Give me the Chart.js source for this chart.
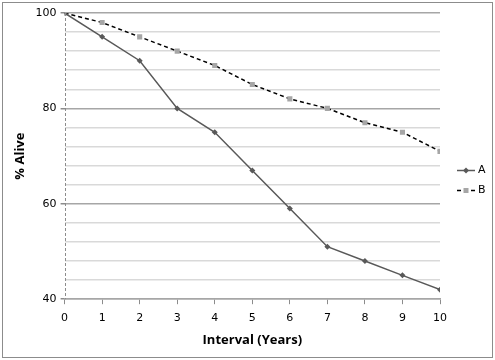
<!DOCTYPE html>
<html>
<head>
<meta charset="utf-8">
<title>Survival</title>
<script src="https://cdn.jsdelivr.net/npm/chart.js"></script>
<style>
  body { margin: 0; background: #fff; }
</style>
</head>
<body>
<canvas id="aliveChart" width="495" height="360"></canvas>
<script>
// data
const years = [0, 1, 2, 3, 4, 5, 6, 7, 8, 9, 10];
const seriesA = [100, 95, 90, 80, 75, 67, 59, 51, 48, 45, 42];
const seriesB = [100, 98, 95, 92, 89, 85, 82, 80, 77, 75, 71];
const yTickLabels = [40, 60, 80, 100];
const seriesNames = ['A', 'B'];

const tickFont = { family: 'DejaVu Sans', size: 11 };
const titleFont = { family: 'Open Sans', size: 13, weight: 'bold' };

// frame + white background + dashed value axis line
const framePlugin = {
  id: 'frame',
  beforeDraw(chart) {
    const c = chart.ctx;
    c.save();
    c.fillStyle = '#fff';
    c.fillRect(0, 0, chart.width, chart.height);
    c.restore();
  },
  afterDatasetsDraw(chart) {
    const c = chart.ctx;
    const a = chart.chartArea;
    const x = Math.round(chart.scales.x.getPixelForValue(0)) + 0.5;
    c.save();
    c.strokeStyle = '#8c8c8c';
    c.lineWidth = 1;
    c.setLineDash([3, 2]);
    c.beginPath();
    c.moveTo(x, a.top);
    c.lineTo(x, a.bottom);
    c.stroke();
    c.restore();
  },
  afterDraw(chart) {
    const c = chart.ctx;
    c.save();
    c.strokeStyle = '#8c8c8c';
    c.lineWidth = 1;
    c.strokeRect(2.5, 2.5, chart.width - 5, chart.height - 5);
    c.restore();
  }
};

// excel-ish legend: line with marker in the middle, then name
const legendPlugin = {
  id: 'sideLegend',
  afterDraw(chart) {
    const c = chart.ctx;
    const x0 = chart.chartArea.right + 17;
    const yMid = chart.height / 2;
    chart.data.datasets.forEach((ds, i) => {
      const y = Math.round(yMid + (i - 0.5) * 20) + 0.5;
      c.save();
      c.strokeStyle = ds.borderColor;
      c.lineWidth = 1.5;
      c.setLineDash(ds.borderDash || []);
      c.beginPath();
      c.moveTo(x0, y);
      c.lineTo(x0 + 18, y);
      c.stroke();
      c.setLineDash([]);
      c.fillStyle = ds.pointBackgroundColor;
      if (ds.pointStyle === 'rect') {
        c.fillRect(x0 + 6.5, y - 2.5, 5, 5);
      } else {
        c.beginPath();
        c.moveTo(x0 + 9, y - 3);
        c.lineTo(x0 + 12, y);
        c.lineTo(x0 + 9, y + 3);
        c.lineTo(x0 + 6, y);
        c.closePath();
        c.fill();
      }
      c.fillStyle = '#000';
      c.font = '11px "DejaVu Sans"';
      c.textBaseline = 'middle';
      c.fillText(ds.label, x0 + 21, y);
      c.restore();
    });
  }
};

const ctx = document.getElementById('aliveChart').getContext('2d');
const myChart = new Chart(ctx, {
  type: 'line',
  data: {
    datasets: [
      {
        label: seriesNames[0],
        data: years.map((x, i) => ({ x: x, y: seriesA[i] })),
        borderColor: '#595959',
        borderWidth: 1.5,
        pointStyle: 'rectRot',
        pointRadius: 3,
        pointBackgroundColor: '#595959',
        pointBorderColor: '#595959',
        pointBorderWidth: 0,
        tension: 0
      },
      {
        label: seriesNames[1],
        data: years.map((x, i) => ({ x: x, y: seriesB[i] })),
        borderColor: '#000',
        borderWidth: 1.5,
        borderDash: [4, 3],
        pointStyle: 'rect',
        pointRadius: 3.6,
        pointBackgroundColor: '#a6a6a6',
        pointBorderColor: '#a6a6a6',
        pointBorderWidth: 0,
        tension: 0
      }
    ]
  },
  options: {
    responsive: false,
    animation: false,
    layout: { padding: { left: 8, right: 55, top: 13, bottom: 8 } },
    plugins: {
      legend: { display: false },
      tooltip: { enabled: false }
    },
    scales: {
      x: {
        type: 'linear',
        min: 0,
        max: 10,
        ticks: { stepSize: 1, color: '#000', font: tickFont, padding: 7 },
        grid: { drawOnChartArea: false, drawTicks: true, tickLength: 5, color: '#8c8c8c' },
        border: { color: '#a6a6a6', width: 1.5 },
        title: { display: true, text: 'Interval (Years)', color: '#000', font: titleFont, padding: { top: 1 } }
      },
      y: {
        min: 40,
        max: 100,
        ticks: {
          stepSize: 4,
          color: '#000',
          font: tickFont,
          padding: 4,
          autoSkip: false,
          callback: v => yTickLabels.includes(v) ? String(v) : ''
        },
        grid: {
          color: c => (c.tick && c.tick.value % 20 === 0) ? '#a6a6a6' : '#d9d9d9',
          lineWidth: 1.5,
          tickLength: 4,
          tickColor: c => (c.tick && c.tick.value % 20 === 0) ? '#8c8c8c' : 'rgba(0,0,0,0)'
        },
        border: { display: false },
        title: { display: true, text: '% Alive', color: '#000', font: titleFont, padding: { bottom: 4 } }
      }
    }
  },
  plugins: [framePlugin, legendPlugin]
});
</script>
</body>
</html>
